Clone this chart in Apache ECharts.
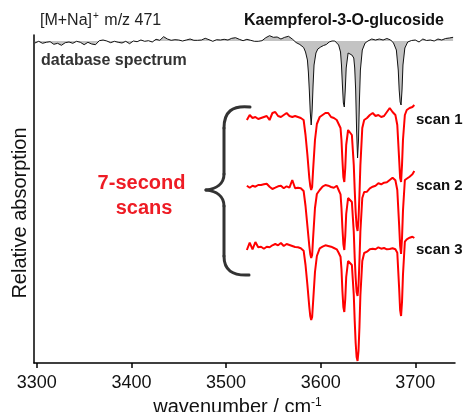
<!DOCTYPE html>
<html>
<head>
<meta charset="utf-8">
<script src="https://cdn.jsdelivr.net/npm/echarts@6/dist/echarts.min.js"></script>
<style>
  html, body { margin: 0; padding: 0; background: #fff; }
  #chart { width: 466px; height: 412px; }
</style>
</head>
<body>
<div id="chart"></div>
<script>
// ---------- data ----------
const xTicks = [3300, 3400, 3500, 3600, 3700];

// database spectrum (wavenumber / relative signal, 0 = baseline, negative = absorption dip)
const dbWn = [3298,3302,3306,3310,3314,3318,3322,3326,3330,3334,3338,3342,3346,3350,3354,3358,3362,3366,3370,3374,
  3378,3382,3386,3390,3394,3398,3402,3406,3410,3414,3418,3422,3426,3430,3434,3438,3442,3446,3450,3454,
  3458,3462,3466,3470,3474,3478,3482,3486,3490,3494,3498,3502,3506,3510,3514,3518,3522,3526,3530,3534,
  3538,3542,3546,3550,3554,3558,3562,3566,3570,3574,3578,
  3580,3582,3584,3586,3587,3588,3589,3590,3591,3592,3593,3595,3597,3600,3603,3606,3609,3612,3615,3617,
  3619,3621,3622,3623,3624,3625,3626,3627,3629,3631,3633,3635,3636,3637,3638,3639,3640,3641,3642,3644,
  3647,3650,3654,3658,3662,3666,3670,3674,3677,3680,3682,3683,3684,3685,3686,3687,3689,3692,3696,3700,
  3704,3708,3712,3716,3720,3724,3728,3732,3736,3740];
const dbRel = [-2,-0.3,-2.3,-1.3,-0.7,-3.3,-2.3,-4.3,-1.7,-1,-2.3,-0.3,-1.3,-3.7,-1.3,-3,-3.7,0.3,1,0,
  -1.7,-0.3,-1.3,-2,-0.3,-2.7,0,-0.7,1,-0.3,0.3,-1,1.7,0.7,4.3,2,0.7,1.3,1,0,
  1,2,0.7,0.7,1,2.7,1.3,-0.3,1.3,1,1.7,1,2.7,3.3,1.7,0.3,1.7,0.7,-0.3,-0.3,
  0.3,3.3,5.3,3.7,4,2,3.7,4.7,2,-1.5,-3.5,
  -5,-6.5,-11,-19,-31,-49,-71,-84,-69,-44,-24,-12,-8,-6,-4.5,-3.5,-1,0,0,-2,
  -4,-11,-24,-44,-62,-66,-49,-27,-12,-11,-14,-17,-27,-49,-89,-117,-99,-59,-29,-9,
  -2,0,2,1,2,1,2.5,1,-2,-9,-29,-49,-61,-64,-49,-24,-7,-1,0.5,1,
  -1,2,0.5,1,0,2,1,2.5,3,3.7];

// 7-second scans
const scanWn = [3522,3525,3528,3531,3534,3537,3540,3543,3546,3549,3552,3555,3558,3561,3564,3567,3570,3573,3576,3579,3582,
  3584,3586,3588,3589,3590,3591,3592,3594,3596,
  3599,3602,3605,3608,3611,3614,3617,
  3619,3621,3622,3623,3624,3625,3626,3627,3629,3631,3633,3635,3636,3637,3638,3639,3640,3641,3642,3644,3646,
  3649,3652,3655,3658,3661,3664,3667,3670,3673,3676,3679,
  3681,3683,3684,3685,3686,3687,
  3689,3691,3694,3697,3699];
const scan1 = [-3,2,-1,0,-2,-1,0,1,-3,4,5,1,0,2,4,1,0,1,0,-1,-3,
  -18,-38,-61,-69,-73,-70,-53,-23,-7,
  0,2,4,4,0,-1,-3,
  -7,-11,-23,-43,-60,-65,-51,-28,-13,-12,-18,-48,-73,-95,-109,-114,-103,-78,-48,-11,-3,
  -1,2,4,1,2,0,1,5,9,5,2,
  -8,-43,-61,-65,-48,-23,
  2,7,9,10,12];
const scan2 = [0.3,-1.7,0.3,-0.7,1,1,1.7,2.3,-0.7,-3,-1.7,-0.3,0.3,-2.3,-0.3,-1.7,6,-2.3,-1.7,-2.3,-5,
  -20,-40,-60,-68,-72,-69,-52,-22,-8,
  -4,-0.7,1,0.3,-1,-1.7,0.3,
  -4,-8.3,-22,-42,-58,-64,-50,-28,-12,-11,-16,-46,-72,-92,-106,-110,-100,-75,-45,-12,-6,
  -5.7,-2.3,-0.7,0.3,2.7,1.7,3.3,3.7,6,8.3,5.7,
  -4,-40,-60,-68,-52,-25,
  6,7,9.3,11.7,15];
const scan3 = [-3,4.3,-2.3,5,-0.3,0.3,-1.7,0.3,-0.3,1.7,3,1.7,4,1,3,2,1,0,-0.3,-1.3,-3.7,
  -18,-38,-60,-69,-73,-70,-55,-25,-9,
  -1.3,0.3,1.7,1,0.3,-1,-2.3,
  -5.7,-9.7,-22,-44,-60,-65,-52,-30,-14,-13,-18,-48,-74,-96,-110,-114,-104,-80,-48,-14,-6,
  -4.7,-2.3,-1.7,-2.3,-0.3,-1.7,-1,-2.3,-2,-1.3,-2.3,
  -5.7,-42,-63,-69,-55,-28,
  5.3,7.7,9.3,10.3,9];

// vertical offsets of each trace (stacked display, arbitrary units)
const dbOffset = 322;
const scanOffsets = [246, 177, 116];
const scanNames = ['scan 1', 'scan 2', 'scan 3'];

// ---------- build ----------
const FONT = "'Liberation Sans', Arial, Helvetica, sans-serif";
function zip(xs, ys, off) { return xs.map((x, i) => [x, ys[i] + off]); }

const chart = echarts.init(document.getElementById('chart'), null, { renderer: 'canvas' });

const scanSeries = [scan1, scan2, scan3].map((s, i) => ({
  type: 'line', name: scanNames[i], data: zip(scanWn, s, scanOffsets[i]),
  symbol: 'none', z: 5,
  lineStyle: { color: '#ff0000', width: 2 },
  itemStyle: { color: '#ff0000' }
}));

const braceStyle = { fill: null, stroke: '#333', lineWidth: 3, lineCap: 'round' };
function bez(x1, y1, c1x, c1y, c2x, c2y, x2, y2) {
  return { type: 'bezierCurve', z: 10, shape: { x1, y1, cpx1: c1x, cpy1: c1y, cpx2: c2x, cpy2: c2y, x2, y2 }, style: braceStyle };
}
function seg(x1, y1, x2, y2) {
  return { type: 'line', z: 10, shape: { x1, y1, x2, y2 }, style: braceStyle };
}

const option = {
  animation: false,
  backgroundColor: '#ffffff',
  grid: { left: 34, right: 11, top: 35, bottom: 49, containLabel: false, outerBoundsMode: 'none' },
  xAxis: {
    type: 'value', min: 3297, max: 3742,
    axisLine: { show: true, lineStyle: { color: '#000', width: 1.5 } },
    axisTick: { show: true, inside: false, length: 5, customValues: xTicks, lineStyle: { color: '#000', width: 1.5 } },
    axisLabel: { customValues: xTicks, fontSize: 18, color: '#111', margin: 11, fontFamily: FONT,
                 formatter: v => String(v) },
    splitLine: { show: false },
    name: '{a|wavenumber / cm}{s|-1}',
    nameLocation: 'middle', nameGap: 27,
    nameTextStyle: {
      padding: [0, 14, 0, 0],
      rich: {
        a: { fontSize: 20, color: '#111', fontFamily: FONT },
        s: { fontSize: 12, color: '#111', fontFamily: FONT, padding: [0, 0, 10, 0] }
      }
    }
  },
  yAxis: {
    type: 'value', min: 0, max: 328,
    axisLine: { show: true, lineStyle: { color: '#000', width: 1.5 } },
    axisTick: { show: false }, axisLabel: { show: false }, splitLine: { show: false }
  },
  series: [
    {
      type: 'line', name: 'database spectrum', data: zip(dbWn, dbRel, dbOffset),
      symbol: 'none', z: 3,
      lineStyle: { color: '#111', width: 1 },
      itemStyle: { color: '#111' },
      areaStyle: { color: '#c3c3c3', opacity: 1, origin: dbOffset }
    },
    ...scanSeries
  ],
  graphic: [
    { type: 'text', x: 20, y: 213, rotation: Math.PI / 2, z: 10, style: {
        text: 'Relative absorption', font: '20px ' + FONT, fill: '#111',
        textAlign: 'center', textVerticalAlign: 'middle' } },
    { type: 'text', x: 40, y: 21, z: 10, style: {
        text: '{a|[M+Na]}{s|+}{a| m/z 471}', textVerticalAlign: 'middle', textAlign: 'left',
        rich: { a: { fontSize: 16, fill: '#222', fontFamily: FONT },
                s: { fontSize: 10, fill: '#222', fontFamily: FONT, padding: [0, 1, 9, 1] } } } },
    { type: 'text', x: 344, y: 21, z: 10, style: {
        text: 'Kaempferol-3-O-glucoside', font: 'bold 16px ' + FONT, fill: '#111',
        textAlign: 'center', textVerticalAlign: 'middle' } },
    { type: 'text', x: 41, y: 61, z: 10, style: {
        text: 'database spectrum', font: 'bold 16px ' + FONT, fill: '#333',
        textAlign: 'left', textVerticalAlign: 'middle' } },
    { type: 'text', x: 416, y: 120, z: 10, style: { text: scanNames[0], font: 'bold 15px ' + FONT, fill: '#111', textAlign: 'left', textVerticalAlign: 'middle' } },
    { type: 'text', x: 416, y: 186, z: 10, style: { text: scanNames[1], font: 'bold 15px ' + FONT, fill: '#111', textAlign: 'left', textVerticalAlign: 'middle' } },
    { type: 'text', x: 416, y: 250, z: 10, style: { text: scanNames[2], font: 'bold 15px ' + FONT, fill: '#111', textAlign: 'left', textVerticalAlign: 'middle' } },
    { type: 'text', x: 141.5, y: 183, z: 10, style: { text: '7-second', font: 'bold 20px ' + FONT, fill: '#ee1c25', textAlign: 'center', textVerticalAlign: 'middle' } },
    { type: 'text', x: 144, y: 208, z: 10, style: { text: 'scans', font: 'bold 20px ' + FONT, fill: '#ee1c25', textAlign: 'center', textVerticalAlign: 'middle' } },
    bez(250, 107, 232, 105, 224, 112, 224, 128),
    seg(224, 128, 224, 174),
    bez(224, 174, 224, 184, 216, 189, 206, 190),
    bez(206, 190, 216, 191, 224, 196, 224, 206),
    seg(224, 206, 224, 256),
    bez(224, 256, 224, 270, 232, 276, 249, 275)
  ]
};
chart.setOption(option);
</script>
</body>
</html>
